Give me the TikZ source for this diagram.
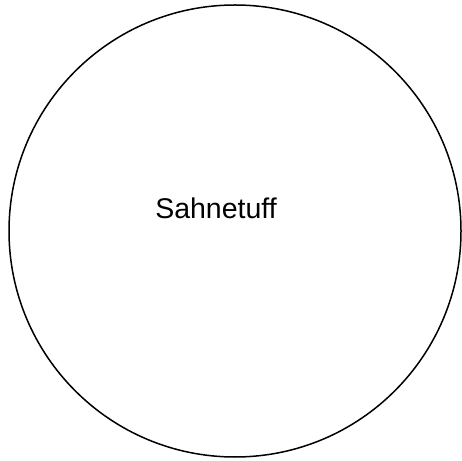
\documentclass[tikz,border=0pt]{standalone}
\usepackage{fontspec}
\setmainfont{Liberation Sans}
\begin{document}
\begin{tikzpicture}[x=1pt,y=1pt]
\useasboundingbox (0,0) rectangle (462,460);
\tikzset{ring/.style={draw=black,line width=1.5pt},
  lbl/.style={font=\fontsize{28.5}{34}\selectfont,inner sep=0pt}}
\node[ring,circle,minimum size=452pt,inner sep=0pt] (c) at (235,229) {};
\node[lbl,anchor=base] (t) at (216,241) {Sahnetuff};
\end{tikzpicture}
\end{document}
